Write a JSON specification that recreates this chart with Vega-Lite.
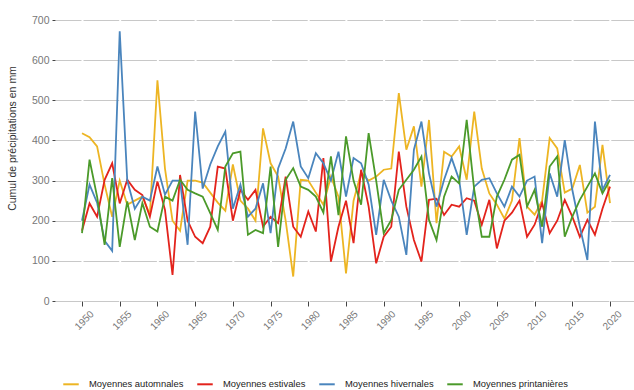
{
  "$schema": "https://vega.github.io/schema/vega-lite/v6.json",
  "autosize": {"type": "none"},
  "width": 579,
  "height": 281,
  "padding": {"left": 55, "top": 20, "right": 0, "bottom": 89},
  "background": "white",
  "config": {
    "font": "Liberation Sans",
    "view": {"stroke": null}
  },
  "data": {
    "values": [
      {"year":1950,"aut":418,"est":175,"hiv":200,"pri":169},
      {"year":1951,"aut":408,"est":243,"hiv":290,"pri":352},
      {"year":1952,"aut":385,"est":210,"hiv":245,"pri":260},
      {"year":1953,"aut":290,"est":302,"hiv":150,"pri":140},
      {"year":1954,"aut":210,"est":343,"hiv":125,"pri":306},
      {"year":1955,"aut":300,"est":243,"hiv":672,"pri":135},
      {"year":1956,"aut":240,"est":302,"hiv":300,"pri":248},
      {"year":1957,"aut":250,"est":277,"hiv":230,"pri":152},
      {"year":1958,"aut":260,"est":264,"hiv":260,"pri":244},
      {"year":1959,"aut":215,"est":210,"hiv":250,"pri":185},
      {"year":1960,"aut":550,"est":298,"hiv":335,"pri":173},
      {"year":1961,"aut":330,"est":227,"hiv":265,"pri":260},
      {"year":1962,"aut":200,"est":65,"hiv":300,"pri":250},
      {"year":1963,"aut":175,"est":314,"hiv":300,"pri":302},
      {"year":1964,"aut":300,"est":200,"hiv":140,"pri":277},
      {"year":1965,"aut":300,"est":160,"hiv":472,"pri":268},
      {"year":1966,"aut":295,"est":144,"hiv":280,"pri":260},
      {"year":1967,"aut":270,"est":185,"hiv":340,"pri":219},
      {"year":1968,"aut":245,"est":335,"hiv":385,"pri":177},
      {"year":1969,"aut":225,"est":330,"hiv":422,"pri":335},
      {"year":1970,"aut":340,"est":200,"hiv":230,"pri":368},
      {"year":1971,"aut":250,"est":277,"hiv":290,"pri":372},
      {"year":1972,"aut":230,"est":252,"hiv":210,"pri":165},
      {"year":1973,"aut":200,"est":277,"hiv":230,"pri":177},
      {"year":1974,"aut":430,"est":185,"hiv":293,"pri":169},
      {"year":1975,"aut":343,"est":210,"hiv":169,"pri":335},
      {"year":1976,"aut":310,"est":194,"hiv":330,"pri":135},
      {"year":1977,"aut":200,"est":310,"hiv":380,"pri":302},
      {"year":1978,"aut":61,"est":185,"hiv":447,"pri":331},
      {"year":1979,"aut":302,"est":160,"hiv":335,"pri":285},
      {"year":1980,"aut":300,"est":223,"hiv":306,"pri":277},
      {"year":1981,"aut":270,"est":173,"hiv":368,"pri":260},
      {"year":1982,"aut":240,"est":356,"hiv":343,"pri":220},
      {"year":1983,"aut":310,"est":98,"hiv":300,"pri":360},
      {"year":1984,"aut":260,"est":185,"hiv":372,"pri":214},
      {"year":1985,"aut":69,"est":250,"hiv":260,"pri":410},
      {"year":1986,"aut":250,"est":144,"hiv":356,"pri":300},
      {"year":1987,"aut":320,"est":327,"hiv":343,"pri":240},
      {"year":1988,"aut":300,"est":235,"hiv":290,"pri":418},
      {"year":1989,"aut":310,"est":94,"hiv":165,"pri":300},
      {"year":1990,"aut":327,"est":160,"hiv":302,"pri":169},
      {"year":1991,"aut":330,"est":185,"hiv":250,"pri":202},
      {"year":1992,"aut":518,"est":372,"hiv":210,"pri":277},
      {"year":1993,"aut":377,"est":235,"hiv":115,"pri":302},
      {"year":1994,"aut":435,"est":152,"hiv":377,"pri":327},
      {"year":1995,"aut":285,"est":98,"hiv":447,"pri":360},
      {"year":1996,"aut":451,"est":252,"hiv":318,"pri":202},
      {"year":1997,"aut":194,"est":255,"hiv":235,"pri":152},
      {"year":1998,"aut":372,"est":214,"hiv":302,"pri":260},
      {"year":1999,"aut":360,"est":240,"hiv":356,"pri":310},
      {"year":2000,"aut":385,"est":235,"hiv":302,"pri":293},
      {"year":2001,"aut":302,"est":256,"hiv":165,"pri":451},
      {"year":2002,"aut":472,"est":250,"hiv":285,"pri":277},
      {"year":2003,"aut":330,"est":190,"hiv":302,"pri":160},
      {"year":2004,"aut":268,"est":252,"hiv":306,"pri":160},
      {"year":2005,"aut":240,"est":131,"hiv":268,"pri":260},
      {"year":2006,"aut":205,"est":200,"hiv":235,"pri":302},
      {"year":2007,"aut":250,"est":220,"hiv":285,"pri":352},
      {"year":2008,"aut":406,"est":250,"hiv":260,"pri":364},
      {"year":2009,"aut":235,"est":160,"hiv":300,"pri":235},
      {"year":2010,"aut":215,"est":190,"hiv":310,"pri":277},
      {"year":2011,"aut":250,"est":244,"hiv":144,"pri":185},
      {"year":2012,"aut":406,"est":169,"hiv":318,"pri":335},
      {"year":2013,"aut":380,"est":200,"hiv":260,"pri":360},
      {"year":2014,"aut":270,"est":252,"hiv":401,"pri":160},
      {"year":2015,"aut":280,"est":210,"hiv":277,"pri":210},
      {"year":2016,"aut":339,"est":160,"hiv":185,"pri":252},
      {"year":2017,"aut":220,"est":202,"hiv":102,"pri":285},
      {"year":2018,"aut":235,"est":165,"hiv":447,"pri":318},
      {"year":2019,"aut":389,"est":230,"hiv":277,"pri":268},
      {"year":2020,"aut":244,"est":285,"hiv":314,"pri":302}
    ]
  },
  "transform": [
    {"fold": ["aut", "est", "hiv", "pri"], "as": ["serie", "value"]}
  ],
  "mark": {"type": "line", "strokeWidth": 1.8, "clip": false},
  "encoding": {
    "x": {
      "field": "year",
      "type": "quantitative",
      "scale": {"domain": [1946.42, 2023.18], "nice": false, "zero": false},
      "axis": {
        "title": null,
        "values": [1950,1955,1960,1965,1970,1975,1980,1985,1990,1995,2000,2005,2010,2015,2020],
        "format": "d",
        "grid": false,
        "domain": false,
        "ticks": true,
        "tickSize": 5,
        "tickColor": "#444",
        "tickWidth": 1,
        "labelAngle": -45,
        "labelAlign": "center",
        "labelBaseline": "middle",
        "labelPadding": 14,
        "labelOffset": 2,
        "labelFontSize": 10,
        "labelColor": "#777"
      }
    },
    "y": {
      "field": "value",
      "type": "quantitative",
      "scale": {"domain": [0, 700], "nice": false},
      "axis": {
        "title": "Cumul de précipitations en mm",
        "titleFontSize": 10.5,
        "titleFontWeight": "normal",
        "titleColor": "#333",
        "titleX": -43,
        "titleY": 118,
        "titleBaseline": "middle",
        "values": [0,100,200,300,400,500,600,700],
        "grid": true,
        "gridColor": "#c8c8c8",
        "gridWidth": 1,
        "gridDash": [35.7, 2],
        "gridDashOffset": 9.7,
        "domain": false,
        "tickSize": 3,
        "tickColor": "#444",
        "labelFontSize": 10.5,
        "labelColor": "#777",
        "labelPadding": 3
      }
    },
    "color": {
      "field": "serie",
      "type": "nominal",
      "scale": {
        "domain": ["aut", "est", "hiv", "pri"],
        "range": ["#EDB523", "#E3231C", "#4A85BD", "#4B9A2A"]
      },
      "legend": {
        "title": null,
        "orient": "none",
        "legendX": 7,
        "legendY": 355,
        "direction": "horizontal",
        "symbolType": "stroke",
        "symbolSize": 240,
        "symbolStrokeWidth": 2,
        "labelFontSize": 9.4,
        "labelColor": "#222",
        "labelOffset": 9,
        "columnPadding": 9,
        "labelLimit": 200,
        "labelExpr": "{'aut':'Moyennes automnales','est':'Moyennes estivales','hiv':'Moyennes hivernales','pri':'Moyennes printanières'}[datum.label]"
      }
    }
  }
}
